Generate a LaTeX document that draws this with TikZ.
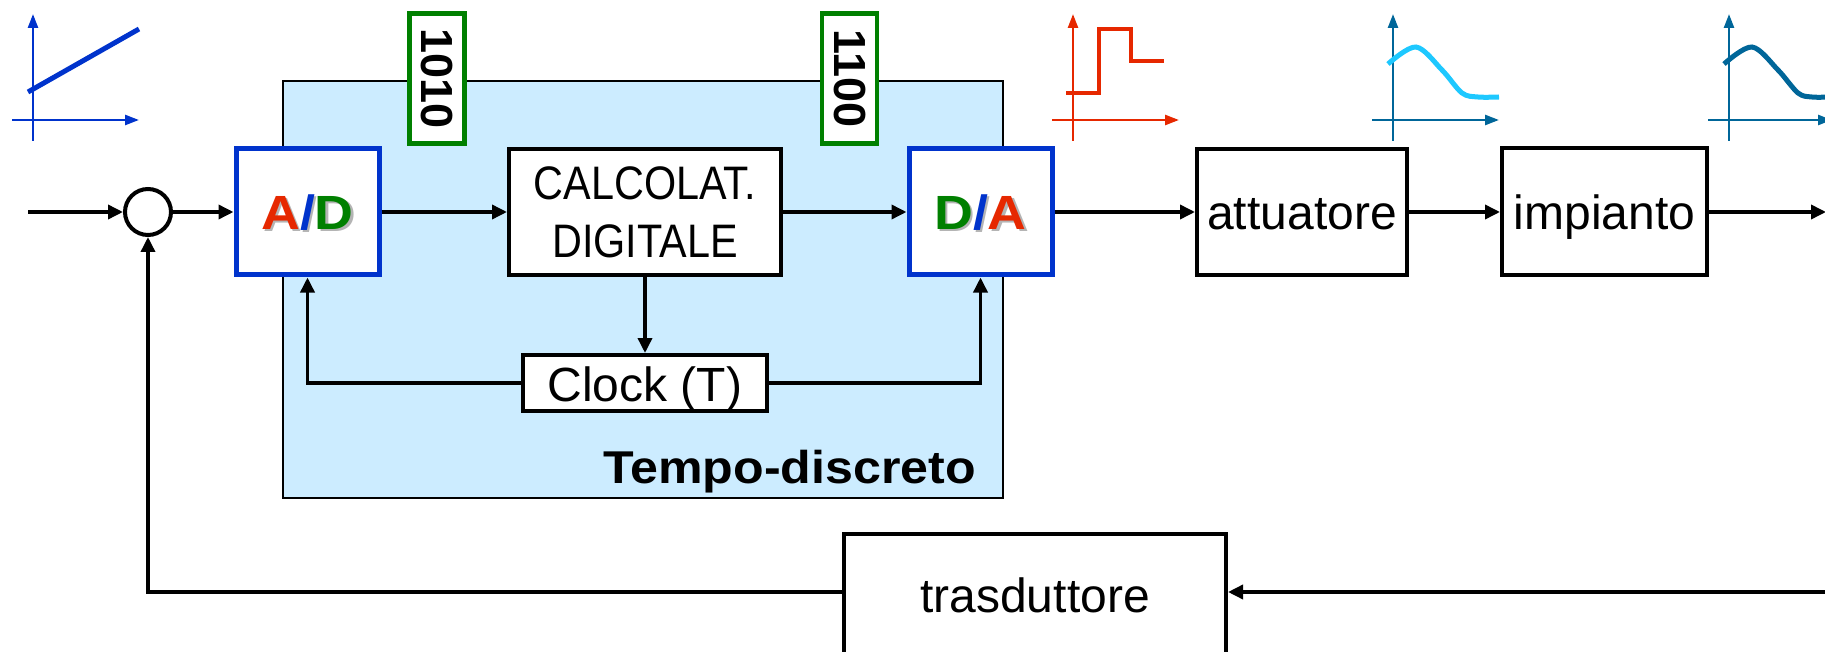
\documentclass[tikz,border=0pt]{standalone}
\usepackage{fontspec}
\setmainfont{Liberation Sans}
\newfontfamily\narrowfont[FakeStretch=0.88]{Liberation Sans}
\newfontfamily\widefont[FakeStretch=1.09]{Liberation Sans}
\newfontfamily\adfont[FakeStretch=1.12]{Liberation Sans}
\usetikzlibrary{arrows.meta}
\definecolor{adblue}{HTML}{0033CC}
\definecolor{adred}{HTML}{E62800}
\definecolor{adgreen}{HTML}{008000}
\definecolor{lightbg}{HTML}{CCECFF}
\definecolor{cyanc}{HTML}{1EC8FF}
\definecolor{tealc}{HTML}{006699}
\definecolor{shadowgray}{HTML}{B4B4B4}
\newcommand\shlet[2]{\makebox[0pt][l]{\hspace{2.5pt}\raisebox{-2.5pt}{\textcolor{shadowgray}{#2}}}\textcolor{#1}{#2}}
\begin{document}
\begin{tikzpicture}[x=1pt,y=-1pt,
 conn/.style={line width=3.5pt, -{Triangle[length=15pt,width=14pt]}},
 frame/.style={draw, line width=4pt, fill=white, inner sep=0pt},
 blk/.style={frame, font=\fontsize{48}{58}\selectfont, text height=36pt, text depth=0pt},
 convbox/.style={draw=adblue, line width=5pt, fill=white, inner sep=0pt, minimum width=143pt, minimum height=126pt, font=\adfont\bfseries\fontsize{48}{50}\selectfont, text height=35pt, text depth=0pt},
 tag/.style={draw=adgreen, line width=4.5pt, fill=white, inner sep=0pt, minimum width=130pt, minimum height=55pt, rotate=-90, font=\bfseries\fontsize{45}{50}\selectfont},
 axis/.style={line width=2.5pt, -{Triangle[length=14pt,width=10pt]}},
]
\useasboundingbox (0,0) rectangle (1825,652);

% discrete-time region
\draw[fill=lightbg, line width=2pt] (283,81) rectangle (1003,498);
\node[anchor=base east, font=\widefont\bfseries\fontsize{46}{50}\selectfont, inner sep=0pt] (td) at (976,483) {Tempo-discreto};

% small graphs
\draw[axis, adblue] (33,141) -- (33,14);
\draw[axis, adblue] (12,120) -- (139,120);
\draw[adblue, line width=5pt] (28,92) -- (139,29);

\draw[axis, adred] (1073,141) -- (1073,14);
\draw[axis, adred] (1052,120) -- (1179,120);
\draw[adred, line width=4.5pt] (1066,93) -- (1099,93) -- (1099,29) -- (1131,29) -- (1131,61) -- (1164,61);

\draw[axis, tealc] (1393,141) -- (1393,14);
\draw[axis, tealc] (1372,120) -- (1499,120);
\draw[cyanc, line width=5pt] plot[smooth, tension=0.55] coordinates {(1388,64) (1416,47) (1442,70) (1462,93) (1478,97) (1499,97)};

\draw[axis, tealc] (1729,141) -- (1729,14);
\draw[axis, tealc] (1708,120) -- (1832,120);
\draw[tealc, line width=5pt] plot[smooth, tension=0.55] coordinates {(1724,64) (1752,47) (1778,70) (1798,93) (1812,97) (1830,97)};

% nodes
\node[draw, circle, line width=4pt, minimum size=46pt, inner sep=0pt] (sum) at (148,212) {};
\node[convbox] (ad) at (307.5,212) {\shlet{adred}{A}\shlet{adblue}{/}\shlet{adgreen}{D}};
\node[frame, minimum width=272pt, minimum height=126pt, align=center, font=\narrowfont\fontsize{47}{58}\selectfont] (calc) at (645,212) {CALCOLAT.\\DIGITALE};
\node[convbox] (da) at (980.5,212) {\shlet{adgreen}{D}\shlet{adblue}{/}\shlet{adred}{A}};
\node[blk, minimum width=244pt, minimum height=56pt] (clock) at (645,383) {Clock (T)};
\node[blk, minimum width=210pt, minimum height=126pt] (att) at (1302,212) {attuatore};
\node[blk, minimum width=205pt, minimum height=127pt] (imp) at (1604.5,212) {impianto};
\node[blk, anchor=north, minimum width=382pt, minimum height=136pt, text height=36pt, text depth=16pt] (tras) at (1035,532) {trasduttore};

\node[tag] (t1) at (437,78.5) {1010};
\node[tag] (t2) at (849.5,78.5) {1100};

% connectors
\coordinate (inL) at (28,212);
\coordinate (outR) at (1826,212);
\coordinate (fbR) at (1830,592);
\draw[conn] (inL) -- (sum.west);
\draw[conn] (sum.east) -- (ad.west);
\draw[conn] (ad.east) -- (calc.west);
\draw[conn] (calc.east) -- (da.west);
\draw[conn] (calc.south) -- (clock.north);
\draw[conn] (clock.west) -| (ad.south);
\draw[conn] (clock.east) -| (da.south);
\draw[conn] (da.east) -- (att.west);
\draw[conn] (att.east) -- (imp.west);
\draw[conn] (imp.east) -- (outR);
\draw[conn] (fbR) -- (fbR -| tras.east);
\draw[conn] (tras.west |- fbR) -| (sum.south);
\end{tikzpicture}
\end{document}
